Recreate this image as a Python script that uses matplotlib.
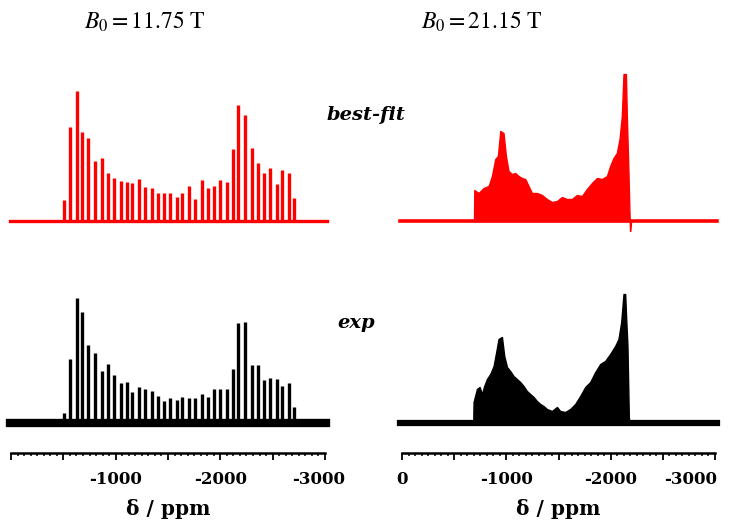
import matplotlib
matplotlib.use("Agg")
import matplotlib.pyplot as plt
import matplotlib.transforms as mtransforms
from matplotlib.ticker import MultipleLocator

plt.rcParams["mathtext.fontset"] = "stix"

# --- 11.75 T : spinning sideband manifold (ppm, arbitrary intensity) ---
ssb_ppm = [-506, -564, -627, -681, -738, -802, -866, -923, -987, -1051,
           -1105, -1159, -1223, -1280, -1344, -1407, -1464, -1519, -1583, -1636,
           -1700, -1757, -1821, -1884, -1942, -1996, -2060, -2118, -2171, -2235,
           -2300, -2356, -2419, -2474, -2538, -2591, -2655, -2706]
ssb_fit = [21, 94, 130, 89, 83, 60, 63, 48, 43, 40,
           39, 38, 42, 34, 33, 28, 28, 28, 24, 28,
           35, 22, 41, 33, 35, 41, 39, 72, 116, 106,
           73, 58, 48, 53, 37, 51, 48, 23]
ssb_exp = [10, 64, 125, 111, 78, 70, 52, 59, 48, 40,
           41, 31, 36, 34, 32, 27, 22, 25, 23, 26,
           25, 25, 29, 26, 34, 34, 34, 54, 100, 101,
           58, 58, 43, 45, 44, 37, 40, 16]

# --- 21.15 T : powder pattern envelopes ---
hf_fit_ppm = [-690, -693, -734, -782, -830, -862, -894, -919, -942, -973,
              -996, -1021, -1054, -1085, -1117, -1149, -1181, -1213, -1245, -1293,
              -1341, -1389, -1437, -1485, -1533, -1580, -1628, -1676, -1724, -1772,
              -1820, -1868, -1916, -1964, -1995, -2027, -2059, -2085, -2107, -2123,
              -2146, -2155, -2171, -2180, -2186, -2196]
hf_fit = [0, 31, 28, 33, 35, 45, 62, 65, 90, 88,
          65, 50, 47, 48, 45, 43, 42, 35, 28, 28,
          26, 22, 19, 20, 24, 22, 22, 26, 25, 32,
          38, 43, 42, 45, 55, 63, 68, 82, 105, 147,
          147, 105, 47, 9, -10, 0]

hf_exp_ppm = [-683, -686, -718, -744, -766, -788, -814, -846, -878, -903,
              -925, -958, -980, -1006, -1037, -1069, -1101, -1133, -1165, -1197,
              -1229, -1261, -1293, -1325, -1356, -1389, -1437, -1485, -1516, -1564,
              -1612, -1660, -1708, -1756, -1804, -1852, -1900, -1947, -1995, -2043,
              -2075, -2101, -2123, -2139, -2149, -2161, -2174, -2180]
hf_exp = [0, 21, 34, 36, 29, 37, 44, 49, 57, 71,
          84, 86, 67, 56, 52, 47, 44, 41, 37, 32,
          29, 26, 22, 19, 17, 14, 12, 16, 12, 11,
          14, 19, 27, 36, 41, 51, 59, 62, 69, 77,
          84, 101, 129, 129, 104, 77, 6, 0]

titles = [r"$B_0 = 11.75\ \mathrm{T}$", r"$B_0 = 21.15\ \mathrm{T}$"]
tick_pos = [0, -500, -1000, -1500, -2000, -2500, -3000]
left_labels = ["", "", "-1000", "", "-2000", "", "-3000"]
right_labels = ["0", "", "-1000", "", "-2000", "", "-3000"]

RED = "#ff0000"
FIT_BASE, EXP_BASE = 232, 30   # vertical offsets of the two traces

W, H = 732, 525
fig = plt.figure(figsize=(W / 100, H / 100), dpi=100)
ax1 = fig.add_axes([11 / W, 72 / H, 314 / W, 393 / H])
ax2 = fig.add_axes([402 / W, 72 / H, 313 / W, 393 / H])

# left: sidebands
ax1.plot([10, -3020], [FIT_BASE, FIT_BASE], color=RED, lw=2.4, clip_on=False)
ax1.vlines(ssb_ppm, FIT_BASE, [FIT_BASE + h for h in ssb_fit], color=RED, lw=2.4)
ax1.plot([10, -3010], [EXP_BASE, EXP_BASE], color="black", lw=6, clip_on=False)
ax1.vlines(ssb_ppm, EXP_BASE, [EXP_BASE + h for h in ssb_exp], color="black", lw=2.4)

# right: static-like patterns
ax2.plot([15, -3015], [FIT_BASE, FIT_BASE], color=RED, lw=2.6, clip_on=False)
ax2.fill_between(hf_fit_ppm, FIT_BASE, [FIT_BASE + h for h in hf_fit],
                 color=RED, lw=1.0)
ax2.plot([15, -3015], [EXP_BASE, EXP_BASE], color="black", lw=4.5, clip_on=False)
ax2.fill_between(hf_exp_ppm, EXP_BASE, [EXP_BASE + h for h in hf_exp],
                 color="black", lw=1.0)

for ax, labels in ((ax1, left_labels), (ax2, right_labels)):
    ax.set_xlim(0, -3000)
    ax.set_ylim(0, 393)
    for s in ("top", "left", "right"):
        ax.spines[s].set_visible(False)
    ax.spines["bottom"].set_linewidth(1.8)
    ax.set_yticks([])
    ax.set_xticks(tick_pos)
    ax.set_xticklabels(labels, fontfamily="DejaVu Serif", fontweight="bold",
                       fontsize=12)
    ax.xaxis.set_minor_locator(MultipleLocator(62.5))
    ax.tick_params(axis="x", which="major", direction="out", length=5,
                   width=1.3, pad=8)
    ax.tick_params(axis="x", which="minor", direction="out", length=2.5,
                   width=1.1)
    ax.set_xlabel("δ / ppm", fontfamily="DejaVu Serif", fontweight="bold",
                  fontsize=14.5, labelpad=8)
    ax.patch.set_visible(False)

# last label pulled inside the figure like in the original
lab = ax1.get_xticklabels()[-1]
lab.set_transform(lab.get_transform() +
                  mtransforms.ScaledTranslation(-6 / 100, 0, fig.dpi_scale_trans))
ax2.get_xticklabels()[-1].set_horizontalalignment("right")
lab = ax2.get_xticklabels()[-1]
lab.set_transform(lab.get_transform() +
                  mtransforms.ScaledTranslation(2 / 100, 0, fig.dpi_scale_trans))

fig.text(145 / W, 1 - 22 / H, titles[0], ha="center", va="center", fontsize=17)
fig.text(482 / W, 1 - 22 / H, titles[1], ha="center", va="center", fontsize=17)
fig.text(327 / W, 1 - 115 / H, "best-fit", ha="left", va="center",
         fontfamily="DejaVu Serif", fontweight="bold", fontstyle="italic",
         fontsize=14)
fig.text(337 / W, 1 - 323 / H, "exp", ha="left", va="center",
         fontfamily="DejaVu Serif", fontweight="bold", fontstyle="italic",
         fontsize=14)

fig.savefig("out.png", dpi=100)
